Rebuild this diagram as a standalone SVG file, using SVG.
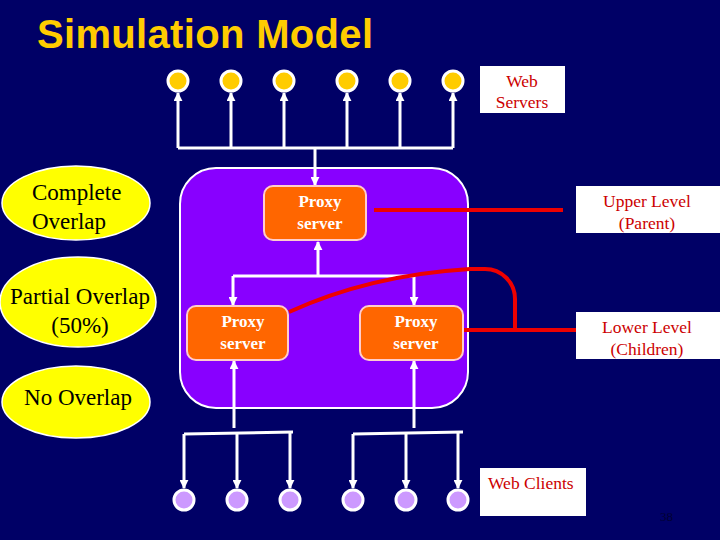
<svg xmlns="http://www.w3.org/2000/svg" width="720" height="540" viewBox="0 0 720 540">
<style>
.title{font-family:"Liberation Sans",Arial,sans-serif;font-weight:bold;font-size:40px;fill:#FFCC00}
.ov{font-family:"Liberation Serif","Times New Roman",serif;font-size:23px;fill:#000}
.px{font-family:"Liberation Serif","Times New Roman",serif;font-weight:bold;font-size:17px;fill:#fff;text-anchor:middle}
.lbl{font-family:"Liberation Serif","Times New Roman",serif;font-size:17.5px;fill:#CC0000;text-anchor:middle}
.lbls{font-family:"Liberation Serif","Times New Roman",serif;font-size:17.5px;fill:#CC0000;text-anchor:start}
.wl{stroke:#fff;stroke-width:3;fill:none}
.rl{stroke:#EE0000;stroke-width:4;fill:none}
.srv{fill:#FFCC00;stroke:#fff;stroke-width:3}
.cli{fill:#CC99FF;stroke:#fff;stroke-width:3}
.box{fill:#FF6600;stroke:#FFCCCC;stroke-width:2}
.ell{fill:#FFFF00;stroke:#fff;stroke-width:1.5}
</style>
<defs>
<marker id="ah" viewBox="0 0 10 10" refX="9" refY="5" markerWidth="3" markerHeight="3" orient="auto">
<path d="M0,0 L10,5 L0,10 z" fill="#fff"/>
</marker>
</defs>
<rect width="720" height="540" fill="#000066"/>
<text class="title" x="37" y="48" textLength="336">Simulation Model</text>

<g id="region">
<rect x="180" y="168" width="288" height="240" rx="36" fill="#8800FF" stroke="#fff" stroke-width="2"/>
</g>

<g id="servers">
<circle class="srv" cx="178" cy="81" r="10"/>
<circle class="srv" cx="231" cy="81" r="10"/>
<circle class="srv" cx="284" cy="81" r="10"/>
<circle class="srv" cx="347" cy="81" r="10"/>
<circle class="srv" cx="400" cy="81" r="10"/>
<circle class="srv" cx="453" cy="81" r="10"/>
</g>

<g id="clients">
<circle class="cli" cx="184" cy="500" r="10"/>
<circle class="cli" cx="237" cy="500" r="10"/>
<circle class="cli" cx="290" cy="500" r="10"/>
<circle class="cli" cx="353" cy="500" r="10"/>
<circle class="cli" cx="406" cy="500" r="10"/>
<circle class="cli" cx="458" cy="500" r="10"/>
</g>

<g id="connectors">
<path class="wl" d="M178,148 H453"/>
<path class="wl" d="M178,148 V93" marker-end="url(#ah)"/>
<path class="wl" d="M231,148 V93" marker-end="url(#ah)"/>
<path class="wl" d="M284,148 V93" marker-end="url(#ah)"/>
<path class="wl" d="M347,148 V93" marker-end="url(#ah)"/>
<path class="wl" d="M400,148 V93" marker-end="url(#ah)"/>
<path class="wl" d="M453,148 V93" marker-end="url(#ah)"/>
<path class="wl" d="M315,148 V185" marker-end="url(#ah)"/>
<path class="wl" d="M318,276 V242" marker-end="url(#ah)" stroke-width="2"/>
<path class="wl" d="M233,276 H414" stroke-width="2"/>
<path class="wl" d="M233,276 V305" marker-end="url(#ah)" stroke-width="2"/>
<path class="wl" d="M414,276 V305" marker-end="url(#ah)" stroke-width="2"/>
<path class="wl" d="M234,428 V361" marker-end="url(#ah)"/>
<path class="wl" d="M414,428 V361" marker-end="url(#ah)"/>
<path class="wl" d="M184,434 L293,432"/>
<path class="wl" d="M184,434 V488" marker-end="url(#ah)"/>
<path class="wl" d="M237,433 V488" marker-end="url(#ah)"/>
<path class="wl" d="M290,432 V488" marker-end="url(#ah)"/>
<path class="wl" d="M353,434 L463,432"/>
<path class="wl" d="M353,434 V488" marker-end="url(#ah)"/>
<path class="wl" d="M406,433 V488" marker-end="url(#ah)"/>
<path class="wl" d="M458,432 V488" marker-end="url(#ah)"/>
<path class="rl" d="M374,210 H563"/>
<path class="rl" d="M464,330 H576"/>
<path class="rl" d="M289,312 Q370,275 470,269 H485 A30,30 0 0 1 515,299 V330"/>
</g>

<g id="proxy-top">
<rect class="box" x="264" y="186" width="102" height="54" rx="9"/>
<text class="px" x="320" y="207">Proxy</text>
<text class="px" x="320" y="229">server</text>
</g>
<g id="proxy-left">
<rect class="box" x="187" y="306" width="101" height="54" rx="9"/>
<text class="px" x="243" y="327">Proxy</text>
<text class="px" x="243" y="349">server</text>
</g>
<g id="proxy-right">
<rect class="box" x="360" y="306" width="103" height="54" rx="9"/>
<text class="px" x="416" y="327">Proxy</text>
<text class="px" x="416" y="349">server</text>
</g>

<g id="complete-overlap">
<ellipse class="ell" cx="76" cy="203" rx="74" ry="37"/>
<text class="ov" x="32" y="200">Complete</text>
<text class="ov" x="32" y="229">Overlap</text>
</g>
<g id="partial-overlap">
<ellipse class="ell" cx="78" cy="302" rx="78" ry="45"/>
<text class="ov" x="80" y="304" text-anchor="middle">Partial Overlap</text>
<text class="ov" x="80" y="333" text-anchor="middle">(50%)</text>
</g>
<g id="no-overlap">
<ellipse class="ell" cx="76" cy="402" rx="74" ry="36"/>
<text class="ov" x="78" y="405" text-anchor="middle">No Overlap</text>
</g>

<g id="web-servers">
<rect x="480" y="66" width="85" height="47" fill="#fff"/>
<text class="lbl" x="522" y="87">Web</text>
<text class="lbl" x="522" y="108">Servers</text>
</g>
<g id="upper-level">
<rect x="576" y="186" width="144" height="47" fill="#fff"/>
<text class="lbl" x="647" y="207">Upper Level</text>
<text class="lbl" x="647" y="229">(Parent)</text>
</g>
<g id="lower-level">
<rect x="576" y="312" width="144" height="47" fill="#fff"/>
<text class="lbl" x="647" y="333">Lower Level</text>
<text class="lbl" x="647" y="355">(Children)</text>
</g>
<g id="web-clients">
<rect x="480" y="468" width="106" height="48" fill="#fff"/>
<text class="lbls" x="488" y="489">Web Clients</text>
</g>
<text x="660" y="521" font-family="Liberation Serif, serif" font-size="13" fill="#000033">38</text>
</svg>
